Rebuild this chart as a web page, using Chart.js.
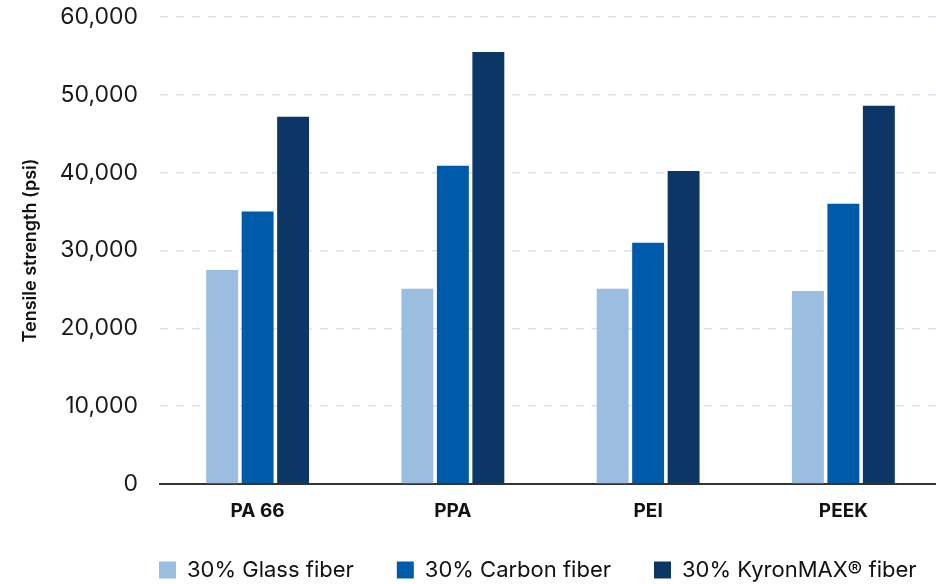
<!DOCTYPE html>
<html>
<head>
<meta charset="utf-8">
<script src="https://cdn.jsdelivr.net/npm/chart.js@4.4.1/dist/chart.umd.min.js"></script>
<style>
  html, body { margin: 0; padding: 0; overflow: hidden; background: #fff; }
  #wrap { position: relative; width: 944px; height: 597px; }
</style>
</head>
<body>
<div id="wrap"><canvas id="barChart"></canvas></div>
<script>
const categories = ['PA 66', 'PPA', 'PEI', 'PEEK'];
const glassFiber = [27500, 25100, 25100, 24800];
const carbonFiber = [35000, 40900, 31000, 36000];
const kyronFiber = [47200, 55500, 40200, 48600];
const yTicks = [0, 10000, 20000, 30000, 40000, 50000, 60000];

const fontFamily = 'Inter, "Noto Sans", sans-serif';

// legend row starts under the left edge of the plot, a bit closer to the labels
const legendNudge = {
    id: 'legendNudge',
    afterLayout(chart) {
        const legend = chart.legend;
        const pad = legend.options.labels.padding;
        legend.left = chart.chartArea.left - 1 - pad;
        legend.right = legend.left + 1200;
        legend.top -= 6;
        legend.bottom -= 6;
    }
};

const ctx = document.getElementById('barChart').getContext('2d');
const myChart = new Chart(ctx, {
    type: 'bar',
    data: {
        labels: categories,
        datasets: [{
            label: '30% Glass fiber',
            data: glassFiber,
            backgroundColor: 'rgb(155, 189, 224)'
        }, {
            label: '30% Carbon fiber',
            data: carbonFiber,
            backgroundColor: 'rgb(0, 90, 170)'
        }, {
            label: '30% KyronMAX® fiber',
            data: kyronFiber,
            backgroundColor: 'rgb(11, 54, 102)'
        }]
    },
    options: {
        responsive: true,
        maintainAspectRatio: false,
        animation: false,
        categoryPercentage: 0.545,
        barPercentage: 0.9,
        layout: {
            padding: { top: 0, right: 3, left: 0, bottom: 0 }
        },
        plugins: {
            tooltip: { enabled: false },
            legend: {
                position: 'bottom',
                align: 'start',
                labels: {
                    boxWidth: 17,
                    boxHeight: 17,
                    padding: 43,
                    color: '#111',
                    font: { family: fontFamily, size: 22 }
                }
            }
        },
        scales: {
            x: {
                grid: { display: false, drawTicks: false },
                border: { display: true, color: '#333', width: 2 },
                ticks: {
                    color: '#111',
                    padding: 16,
                    font: { family: fontFamily, size: 19, weight: 'bold' }
                },
                afterFit: (scale) => { scale.height = 38; }
            },
            y: {
                min: 0,
                max: 60000,
                afterBuildTicks: (scale) => {
                    scale.ticks = yTicks.map(v => ({ value: v }));
                },
                grid: {
                    drawTicks: false,
                    color: '#dbe2ea',
                    lineWidth: 1.5
                },
                border: { display: false, dash: [8, 8] },
                ticks: {
                    color: '#1a1a1a',
                    padding: 22,
                    font: { family: fontFamily, size: 23 }
                },
                title: {
                    display: true,
                    text: 'Tensile strength (psi)',
                    color: '#111',
                    padding: { top: 20, bottom: 0 },
                    font: { family: fontFamily, size: 18, weight: '600' }
                },
                afterFit: (scale) => {
                    scale.width = 160;
                    scale.paddingTop = 17;
                }
            }
        }
    },
    plugins: [legendNudge]
});
</script>
</body>
</html>
